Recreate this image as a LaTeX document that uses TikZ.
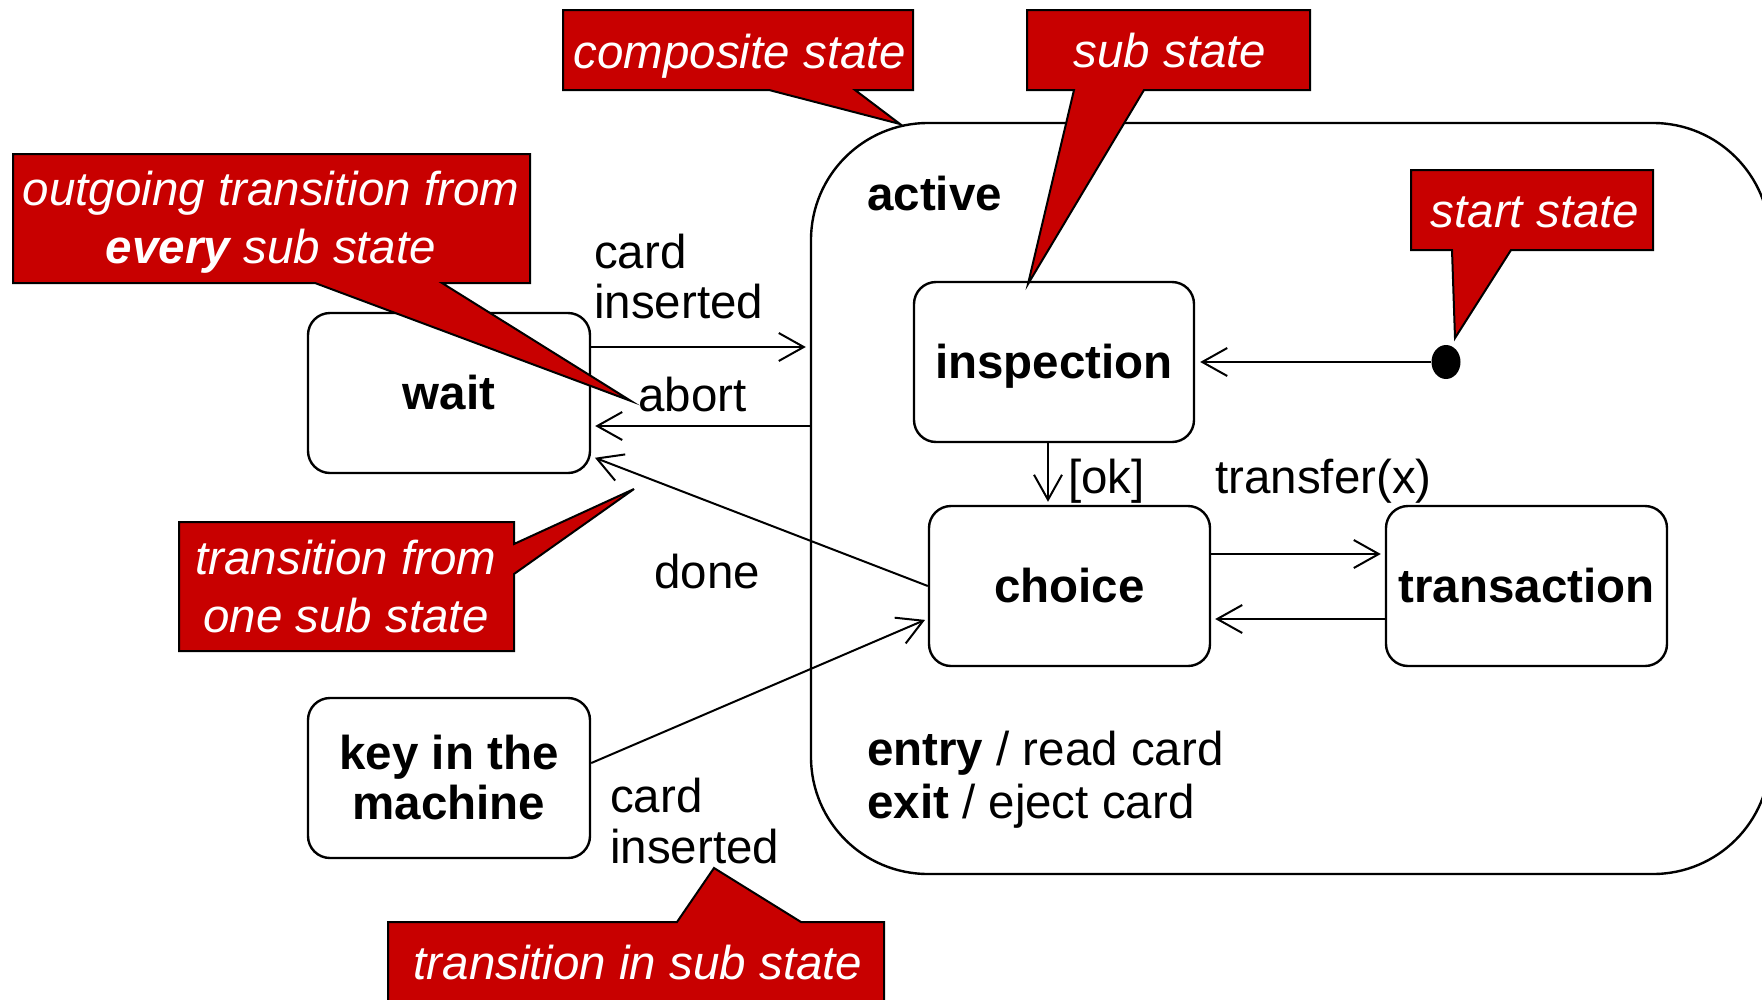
\documentclass[tikz,border=0pt]{standalone}
\usepackage{fontspec}
\setmainfont{Liberation Sans}
\usetikzlibrary{arrows.meta,calc,shapes.geometric}
\definecolor{callred}{RGB}{200,0,0}
\begin{document}
\begin{tikzpicture}[x=1pt,y=-1pt,
  statebox/.style={draw, line width=2.4pt, rounded corners=22pt, fill=white,
    minimum width=282pt, minimum height=160pt, inner sep=0pt},
  state/.style={statebox, font=\fontsize{47.5}{50}\selectfont\bfseries, text height=33pt, text depth=0pt},
  lbl/.style={inner sep=0pt, anchor=base west, align=left, font=\fontsize{47.5}{50}\selectfont},
  arr/.style={line width=2pt, -{Straight Barb[length=25pt,width=28pt,line width=2pt]}},
  callout/.style={fill=callred, draw=black, line width=2pt, line join=miter},
  ctext/.style={inner sep=0pt, anchor=base, align=center, text=white,
    font=\fontsize{47.5}{58}\selectfont\itshape}]
\useasboundingbox (0,0) rectangle (1762,999);

% composite state
\node[draw, line width=2.4pt, rounded corners=117pt, minimum width=959pt,
  minimum height=751pt, inner sep=0pt] (active) at (1290.5,498.5) {};
\node[lbl, font=\fontsize{47.5}{50}\selectfont\bfseries] (activelbl) at (867,210) {active};
\node[lbl, font=\fontsize{47.5}{53}\selectfont] (entryexit) at (867,818) {\textbf{entry} / read card\\\textbf{exit} / eject card};

% states
\node[state] (wait) at (449,393) {wait};
\node[statebox, align=center, font=\fontsize{47.5}{50}\selectfont\bfseries] (key) at (449,778) {key in the\\machine};
\node[state, minimum width=280pt] (inspection) at (1054,362) {inspection};
\node[state, minimum width=281pt] (choice) at (1069.5,586) {choice};
\node[state, minimum width=281pt] (transaction) at (1526.5,586) {transaction};
\node[ellipse, fill=black, inner sep=0pt, minimum width=29pt, minimum height=34pt] (start) at (1446,362) {};

% transitions
\draw[arr, shorten >=5pt] (start) -- (inspection.east);
\draw[arr, shorten >=3pt] ([xshift=-6pt]inspection.south) -- ([xshift=-6pt]inspection.south |- choice.north);
\draw[arr, shorten >=4pt] ([yshift=32pt]choice.east) -- ([yshift=32pt]choice.east -| transaction.west);
\draw[arr, shorten >=4pt] ([yshift=-33pt]transaction.west) -- ([yshift=-33pt]transaction.west -| choice.east);
\draw[arr, shorten >=4pt] ([yshift=46pt]wait.east) -- ([yshift=46pt]wait.east -| active.west);
\draw[arr, shorten >=4pt] ([yshift=-33pt]wait.east -| active.west) -- ([yshift=-33pt]wait.east);
\draw[arr, shorten >=4pt] (choice.west) -- (wait.-24);
\draw[arr, shorten >=3pt] (key.6.5) -- (choice.193);

% transition labels
\node[lbl] (l1) at (594,318) {card\\inserted};
\node[lbl] (l2) at (638,411) {abort};
\node[lbl] (l3) at (654,588) {done};
\node[lbl, font=\fontsize{47.5}{51}\selectfont] (l4) at (610,863) {card\\inserted};
\node[lbl] (l5) at (1068,493) {[ok]};
\node[lbl] (l6) at (1215,493) {transfer(x)};

% callouts
\draw[callout] (563,10) -- (913,10) -- (913,90) -- (855,90) -- (900,124) -- (769,90) -- (563,90) -- cycle;
\node[ctext] (c1) at (740,68) {composite state};
\draw[callout] (1027,10) -- (1310,10) -- (1310,90) -- (1144,90) -- (1028,284) -- (1074,90) -- (1027,90) -- cycle;
\node[ctext] (c2) at (1170,67) {sub state};
\draw[callout] (1411,170) -- (1653,170) -- (1653,250) -- (1511,250) -- (1455,338) -- (1452,250) -- (1411,250) -- cycle;
\node[ctext] (c3) at (1535,227) {start state};
\draw[callout] (13,154) -- (530,154) -- (530,283) -- (442,283) -- (631,401) -- (315,283) -- (13,283) -- cycle;
\node[ctext] (c4) at (271,263) {outgoing transition from\\\textbf{every} sub state};
\draw[callout] (179,522) -- (514,522) -- (514,544) -- (634,489) -- (514,574) -- (514,651) -- (179,651) -- cycle;
\node[ctext] (c5) at (346,632) {transition from\\one sub state};
\draw[callout] (388,922) -- (677,922) -- (714,868) -- (801,922) -- (884,922) -- (884,1012) -- (388,1012) -- cycle;
\node[ctext] (c6) at (638,979) {transition in sub state};
\end{tikzpicture}
\end{document}
